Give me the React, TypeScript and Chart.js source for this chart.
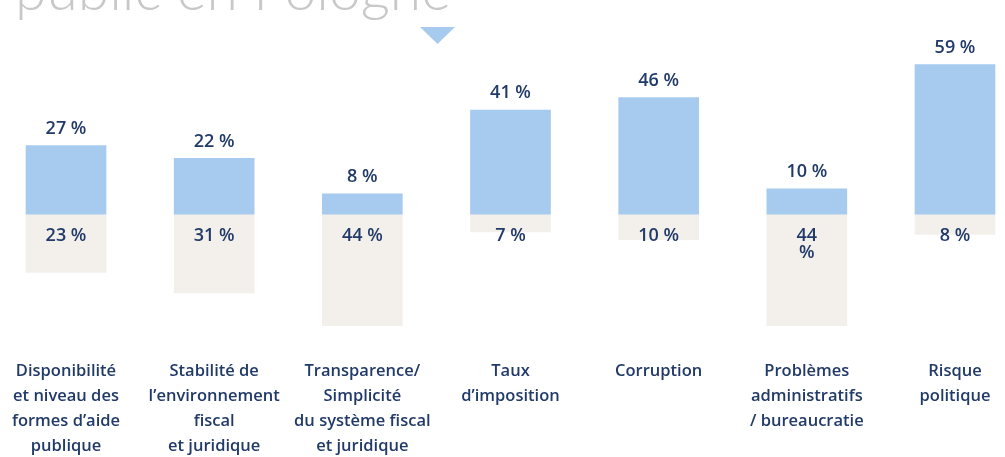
import React, { useEffect, useRef } from "react";
import { Chart, registerables } from "chart.js";

Chart.register(...registerables);

const categories: string[][] = [
  ["Disponibilité", "et niveau des", "formes d’aide", "publique"],
  ["Stabilité de", "l’environnement", "fiscal", "et juridique"],
  ["Transparence/", "Simplicité", "du système fiscal", "et juridique"],
  ["Taux", "d’imposition"],
  ["Corruption"],
  ["Problèmes", "administratifs", "/ bureaucratie"],
  ["Risque", "politique"],
];
const positiveValues = [27, 22, 8, 41, 46, 10, 59];
const negativeValues = [23, 31, 44, 7, 10, 44, 8];
const negativeLabels = ["23 %", "31 %", "44 %", "7 %", "10 %", "44\n%", "8 %"];
const titleText = "public en Pologne";

const NAVY = "#213a68";
const BLUE = "#a6cbee";
const BEIGE = "#f3f0eb";

const decorPlugin = {
  id: "decor",
  beforeDraw(chart: any) {
    const ctx = chart.ctx;
    ctx.save();
    ctx.fillStyle = "#c8c8c8";
    ctx.font = "300 57px Lato";
    ctx.textAlign = "left";
    ctx.textBaseline = "alphabetic";
    ctx.fillText(titleText, 15, 10);
    ctx.fillStyle = BLUE;
    ctx.beginPath();
    ctx.moveTo(420, 27);
    ctx.lineTo(455, 27);
    ctx.lineTo(437.5, 44);
    ctx.closePath();
    ctx.fill();
    ctx.restore();
  },
  afterDatasetsDraw(chart: any) {
    const ctx = chart.ctx;
    const yScale = chart.scales.y;
    const zero = yScale.getPixelForValue(0);
    ctx.save();
    ctx.fillStyle = NAVY;
    ctx.font = "600 18px 'Open Sans'";
    ctx.textAlign = "center";
    ctx.textBaseline = "middle";
    const pos = chart.getDatasetMeta(0).data;
    pos.forEach((el: any, i: number) => {
      ctx.fillText(`${positiveValues[i]} %`, el.x, el.y - 17);
    });
    const neg = chart.getDatasetMeta(1).data;
    neg.forEach((el: any, i: number) => {
      const lines = negativeLabels[i].split("\n");
      lines.forEach((ln, k) => ctx.fillText(ln, el.x, zero + 22 + k * 17));
    });
    ctx.restore();
  },
};

export default function App() {
  const ref = useRef<HTMLCanvasElement>(null);
  useEffect(() => {
    if (!ref.current) return;
    const chart = new Chart(ref.current, {
      type: "bar",
      data: {
        labels: categories,
        datasets: [
          {
            data: positiveValues,
            backgroundColor: BLUE,
            barThickness: 80,
            clip: false as any,
          },
          {
            data: negativeValues.map((v) => -v),
            backgroundColor: BEIGE,
            barThickness: 80,
            clip: false as any,
          },
        ],
      },
      options: {
        responsive: false,
        animation: false,
        layout: { padding: { top: 62, left: 66, right: 50, bottom: 0 } },
        plugins: {
          legend: { display: false },
          tooltip: { enabled: false },
          title: { display: false },
        },
        scales: {
          x: {
            stacked: true,
            offset: false,
            grid: { display: false, drawTicks: false },
            border: { display: false },
            afterFit(scale: any) {
              scale.height = 116;
              scale.paddingLeft = 0;
              scale.paddingRight = 0;
            },
            ticks: {
              color: NAVY,
              font: { family: "'Open Sans'", size: 16.5, weight: 600 as any, lineHeight: 25 / 16.5 },
              padding: 18,
              maxRotation: 0,
              autoSkip: false,
            },
          },
          y: {
            stacked: true,
            display: false,
            min: -50,
            max: 60,
          },
        },
      },
      plugins: [decorPlugin],
    });
    return () => chart.destroy();
  }, []);
  return (
    <div style={{ position: "absolute", left: 0, top: 0, width: 1005, height: 457 }}>
      <canvas ref={ref} width={1005} height={457} style={{ display: "block" }} />
    </div>
  );
}
